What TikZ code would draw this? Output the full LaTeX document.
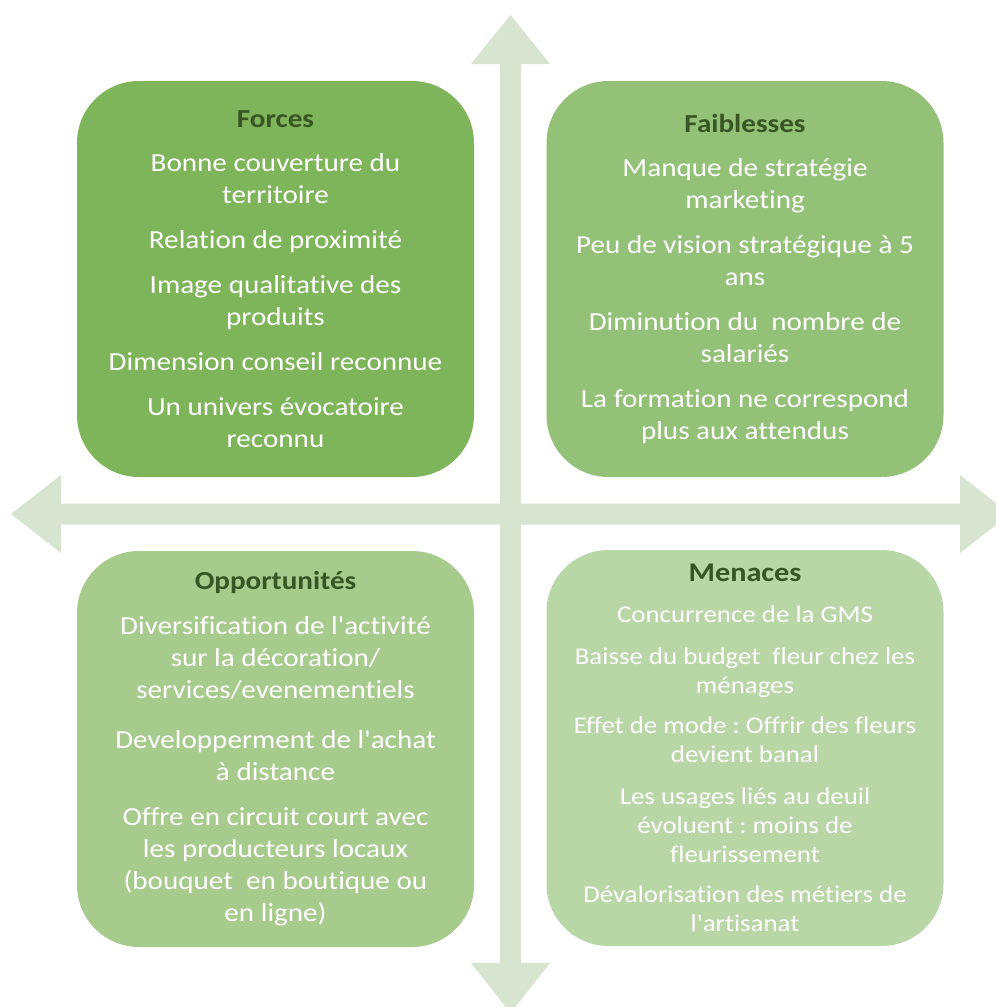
\documentclass[tikz,border=0pt]{standalone}
\usepackage{fontspec}
\newfontfamily\calib{Carlito}[Ligatures=NoCommon, FakeStretch=1.12]
\frenchspacing
\definecolor{axis}{HTML}{D6E4D0}
\definecolor{cforce}{HTML}{7FB55A}
\definecolor{cfaible}{HTML}{93C177}
\definecolor{coppo}{HTML}{A7CB8D}
\definecolor{cmenace}{HTML}{B9D6A7}
\definecolor{ctitle}{HTML}{375623}
\begin{document}
\begin{tikzpicture}[x=1pt,y=-1pt,
  quad/.style={rounded corners=62pt, minimum width=397pt, minimum height=396pt,
    inner sep=0pt, align=center, text=white},
  bodytext/.style={font=\calib\frenchspacing\fontsize{26}{32}\selectfont},
  smalltext/.style={font=\calib\frenchspacing\fontsize{24}{29}\selectfont}]
\useasboundingbox (0,0) rectangle (996,1007);
\clip (0,0) rectangle (996,1007);
% axes: horizontal and vertical double arrows
\coordinate (ctr) at (510.5,514);
\fill[axis] (11,514) -- (61,475) -- (61,503.5) -- (960,503.5) -- (960,475) -- (1010,514)
  -- (960,553) -- (960,524.5) -- (61,524.5) -- (61,553) -- cycle;
\fill[axis] (510.5,15) -- (550,64) -- (521,64) -- (521,963) -- (550,963) -- (510.5,1013)
  -- (471,963) -- (500,963) -- (500,64) -- (471,64) -- cycle;
% quadrants
\node[quad, fill=cforce, bodytext] (forces) at (275.5,279) {%
  {\bfseries\color{ctitle}Forces}\\[12pt]
  Bonne couverture du\\ territoire\\[13pt]
  Relation de proximité\\[13pt]
  Image qualitative des\\ produits\\[13pt]
  Dimension conseil reconnue\\[13pt]
  Un univers évocatoire\\ reconnu};
\node[quad, fill=cfaible, bodytext] (faiblesses) at (745,279) {%
  {\bfseries\color{ctitle}Faiblesses}\\[12pt]
  Manque de stratégie\\ marketing\\[13pt]
  Peu de vision stratégique à 5\\ ans\\[13pt]
  Diminution du~ nombre de\\ salariés\\[13pt]
  La formation ne correspond\\ plus aux attendus};
\node[quad, fill=coppo, bodytext] (opportunites) at (275.5,749) {%
  {\bfseries\color{ctitle}Opportunités}\\[13pt]
  Diversification de l'activité\\ sur la décoration/\\ services/evenementiels\\[18pt]
  Developperment de l'achat\\ à distance\\[13pt]
  Offre en circuit court avec\\ les producteurs locaux\\ (bouquet~ en boutique ou\\ en ligne)};
\node[quad, fill=cmenace, smalltext] (menaces) at (745,748) {%
  {\fontsize{27}{29}\selectfont\bfseries\color{ctitle}Menaces}\\[12pt]
  Concurrence de la GMS\\[13pt]
  Baisse du budget~ fleur chez les\\ ménages\\[11pt]
  Effet de mode : Offrir des fleurs\\ devient banal\\[13pt]
  Les usages liés au deuil\\ évoluent : moins de\\ fleurissement\\[11pt]
  Dévalorisation des métiers de\\ l'artisanat};
\end{tikzpicture}
\end{document}
